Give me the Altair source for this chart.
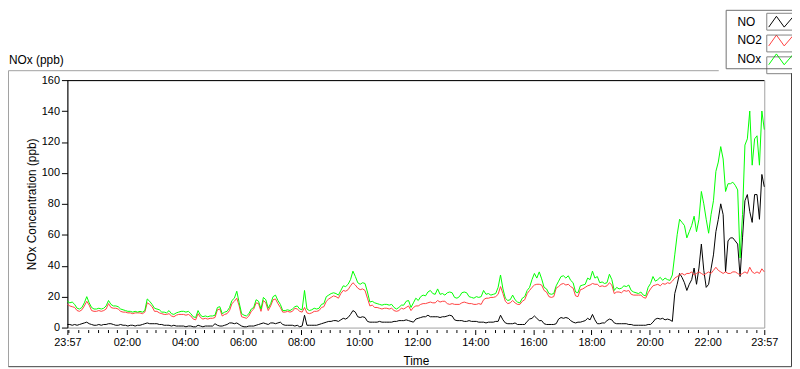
import altair as alt
import pandas as pd

# ---- data (minutes after 23:57, 5-minute readings) ----
minutes = list(range(0, 1441, 5))

nox = [
    17, 16, 16.5, 15, 12.5, 12, 13, 16, 20, 16, 13, 12,
    12, 12.5, 12, 12.5, 14, 17.5, 15, 14, 14, 13.5, 12, 11.5,
    11, 10.5, 10.5, 10, 10.5, 10, 10.5, 10, 11, 18.5, 17, 15,
    12.5, 12, 11.5, 10, 10, 9.5, 11, 9, 8.5, 9.5, 10, 10.5,
    10.5, 10, 10.5, 9, 7, 6.5, 11, 8, 7, 7.5, 7, 7.5,
    7.5, 8, 13, 13.5, 9, 10, 10.5, 13, 17.5, 19, 23.5, 16,
    9, 8, 7.5, 9, 12, 13, 18, 17, 12, 19.5, 18, 12.5,
    15.5, 20, 21, 17.5, 15, 11, 11, 11.5, 11, 12, 13.5, 14,
    12, 11.5, 24, 12, 11, 11.5, 12.5, 12, 12.5, 15, 15.5, 20,
    21, 22, 22.5, 22, 21, 24, 27, 26.5, 28, 31, 36.5, 33,
    29, 28, 29, 28.5, 23, 16.5, 17, 16, 15.5, 15, 14.5, 15,
    15, 14.5, 15, 13, 12, 13, 14.5, 14.5, 17, 17.5, 13, 16,
    19, 17.5, 20, 21, 20.5, 23, 24, 22, 21.5, 25, 21.5, 22,
    21, 22.5, 23, 22.5, 19.5, 19, 20, 22.5, 23, 22.5, 20, 19.5,
    19, 20, 19.5, 20, 24, 21.5, 22, 21, 21.5, 22, 26, 34,
    25, 19, 17.5, 18, 21, 18, 16.5, 16, 19, 20, 24, 26,
    31, 35, 32, 36, 31.5, 26, 25, 22, 21.5, 22, 27, 30,
    33, 33.5, 32, 33.5, 30.5, 29, 23, 22.5, 27, 27.5, 28, 32,
    31, 36.5, 32, 33, 29, 29.5, 28.5, 29, 34.5, 31, 24, 26,
    25, 25.5, 27, 26.5, 27.5, 24, 23, 22.5, 22, 23, 21, 20.5,
    26, 28.5, 33, 30, 31, 32.5, 30.5, 32, 31, 30.5, 34, 47,
    60, 70, 68, 66, 58, 62, 66, 72, 62, 70, 88, 80,
    70, 61, 73, 82, 101, 107, 117, 109, 88, 93, 93, 94,
    92, 89, 45, 73, 118, 122, 140, 105, 122, 124, 105, 140,
    128,
]

no2 = [
    15, 14, 13.5, 13, 11, 10.5, 11.5, 14, 17, 14.5, 11, 10.5,
    10.5, 11, 10.5, 11, 12, 15.5, 13, 12.5, 12.5, 12, 10.5, 10,
    10, 9.5, 9.5, 9, 9.5, 9.5, 9.5, 9, 10, 16, 15, 13.5,
    10.5, 10.5, 9.5, 9, 8.5, 8.5, 9, 7.5, 7, 8, 8.5, 8.5,
    8.5, 8, 8.5, 7.5, 5.5, 5, 9, 6.5, 5.5, 6, 5.5, 6,
    6, 6.5, 11.5, 12, 7.5, 8.5, 9, 11, 15.5, 17, 19, 14,
    7, 6.5, 6, 7.5, 10.5, 12, 16, 15.5, 10.5, 17.5, 16, 11,
    14, 18, 18.5, 15.5, 13, 10, 10, 10.5, 10, 10.5, 12.5, 12,
    10.5, 10, 13, 9.5, 9, 9.5, 10.5, 10.5, 11, 13, 13.5, 17,
    18.5, 19.5, 20.5, 20, 19, 22, 24, 23.5, 24.5, 27, 29, 27.5,
    25.5, 24.5, 25, 24, 19, 14, 14.5, 13, 13, 12.5, 12, 12.5,
    12.5, 12, 12.5, 11, 10.5, 11, 12.5, 12, 13, 14, 11, 13,
    14, 14, 15, 15.5, 15.5, 16, 16.5, 16, 16, 17.5, 16.5, 17,
    17, 15.5, 15, 15.5, 15, 15, 15, 16, 16.5, 16, 15.5, 15.5,
    15, 15, 15.5, 15, 18, 19, 19, 19.5, 19.5, 20, 21.5, 26.5,
    22, 17, 15.5, 16, 17.5, 16, 15, 15, 17, 18, 22, 24,
    26, 27.5, 28, 28, 27.5, 24, 23, 20, 19.5, 20, 25.5, 26.5,
    28, 28.5, 27.5, 28, 26.5, 25.5, 20.5, 20, 24.5, 25, 26, 27,
    27.5, 28.5, 28, 28, 26.5, 27, 26.5, 27, 29, 27.5, 22, 23,
    23, 22.5, 24, 23.5, 24, 21.5, 21, 21, 21, 21, 19.5, 19,
    22.5, 25, 27, 27.5, 28, 27, 28.5, 28, 29, 28.5, 30, 32,
    33, 34, 35, 34, 35, 35, 36, 34, 35, 36, 35, 34,
    35, 36, 35, 37, 39, 37, 36, 35, 36, 35, 35, 36,
    36, 35, 34, 35, 36, 35, 39, 36, 35, 36, 35, 38,
    36,
]

no = [
    2, 2, 1.5, 2, 1.5, 2, 2.5, 3, 3.5, 2.5, 2, 1.5,
    1.5, 2, 1.5, 2, 2, 2.5, 2.5, 2, 1.5, 1.5, 2, 1.5,
    1.5, 1, 1.5, 1.5, 1, 1.5, 1.5, 2, 2.5, 3, 2.5, 2.5,
    2.5, 2.5, 2, 2, 1.5, 1.5, 1.5, 1, 1.5, 1, 1, 1,
    1, 0.5, 1, 1, 0.5, 0.5, 1.5, 1, 0.5, 1, 1, 1,
    1, 2.5, 1.5, 1, 1, 1.5, 2, 3, 3, 2.5, 3, 2,
    1, 0.5, 0.5, 1, 1, 1, 1.5, 2, 2.5, 3, 2.5, 2,
    3, 3, 2.5, 3, 3.5, 2, 1.5, 1.5, 1.5, 1.5, 1, 1.5,
    0.5, 1, 8, 1.5, 1.5, 1.5, 1.5, 1.5, 2, 2.5, 3, 3.5,
    4, 4, 4.5, 4.5, 4, 5, 6, 5.5, 6.5, 8.5, 11, 10,
    7, 6.5, 7, 6.5, 4, 3.5, 3.5, 3.5, 3.5, 4, 3.5, 3.5,
    3.5, 3.5, 3.5, 4, 4, 4.5, 4.5, 4.5, 5, 4.5, 4, 3.5,
    5.5, 6, 6.5, 7, 7, 8, 7, 7, 7, 7, 6.5, 7,
    7, 7.5, 8, 7.5, 5, 4.5, 4.5, 4.5, 4, 4, 4.5, 4,
    4, 4, 3.5, 3.5, 3.5, 3, 3.5, 3.5, 3.5, 4, 4, 8,
    5, 3, 2.5, 2.5, 2.5, 3, 2, 2, 2, 2, 4, 5.5,
    6, 7.5, 6, 4.5, 4.5, 2.5, 2, 2, 2, 2, 2.5, 5.5,
    6.5, 6, 6.5, 6, 4.5, 3.5, 3, 3.5, 3.5, 4, 4.5, 6,
    5, 8.5, 5, 2.5, 2.5, 3, 3, 4.5, 5.5, 5, 3, 2.5,
    2.5, 2.5, 2.5, 2.5, 2, 2, 1.5, 1.5, 1.5, 1.5, 1.5, 1.5,
    2, 2, 3.5, 5.5, 6, 5.5, 6, 5, 5.5, 5, 4, 22,
    28, 35, 32.5, 29, 24, 28, 31, 38.5, 28, 38.5, 54, 37,
    26, 28, 38, 47, 62, 70, 80, 73, 36, 56, 58, 58,
    56, 54, 33, 58, 82, 86, 75, 68, 86, 86, 70, 99,
    91,
]

series_names = ["NO", "NO2", "NOx"]
series_colors = ["#000000", "#ff4040", "#00ff00"]
box_keys = ["b1", "b2", "b3"]

major_ticks = [0, 123, 243, 363, 483, 603, 723, 843, 963, 1083, 1203, 1323, 1440]
major_labels = ["23:57", "02:00", "04:00", "06:00", "08:00", "10:00", "12:00",
                "14:00", "16:00", "18:00", "20:00", "22:00", "23:57"]
minor_ticks = list(range(3, 1440, 20))
y_ticks = list(range(0, 161, 20))

n = len(minutes)
df = pd.DataFrame({
    "minute": minutes * 3,
    "value": no + no2 + nox,
    "series": ["NO"] * n + ["NO2"] * n + ["NOx"] * n,
})

FONT = "Liberation Sans"
W, H = 704, 250

label_expr = " : ".join(
    f"datum.value == {v} ? '{l}'" for v, l in zip(major_ticks, major_labels)
) + " : ''"
tick_test = f"indexof({major_ticks}, datum.value) >= 0"

# zigzag glyph; the trailing move-to widens the legend frame past the swatch box
zigzag = "M-1.19,0.52L-0.45,-0.52L0.3,0.52L1.19,-0.52M1.5,0"
box = "M-1.38,-0.81L1.38,-0.81L1.38,0.81L-1.38,0.81Z"

LEG_X, LEG_Y = 665, -71
SYM_SIZE = 441          # 21 px rows
SYM_OFF = 44
LAB_OFF = {"expr": "-55"}

lines = alt.Chart(df).mark_line(strokeWidth=1).encode(
    x=alt.X(
        "minute:Q",
        scale=alt.Scale(domain=[0, 1440], nice=False, zero=False),
        axis=alt.Axis(
            values=sorted(set(major_ticks + minor_ticks)),
            labelExpr=label_expr,
            labelOverlap=False,
            labelFlush=False,
            domain=False,
            offset=2,
            tickColor="#000000",
            tickSize={"condition": {"test": tick_test, "value": 5}, "value": 3},
            labelPadding=2,
            labelFontSize=11,
            labelColor="#000000",
            grid=False,
            title="Time",
            titleFontSize=12,
            titleFontWeight="normal",
            titleColor="#000000",
            titleY=31,
            titleBaseline="middle",
        ),
    ),
    y=alt.Y(
        "value:Q",
        scale=alt.Scale(domain=[0, 160], nice=False),
        axis=alt.Axis(
            values=y_ticks,
            domainColor="#000000",
            tickColor="#000000",
            tickSize=6,
            labelPadding=2,
            labelFontSize=11,
            labelColor="#000000",
            grid=False,
            title="NOx Concentration (ppb)",
            titleFontSize=12,
            titleFontWeight="normal",
            titleColor="#000000",
            titleX=-36,
            titleY=125,
            titleBaseline="middle",
        ),
    ),
    color=alt.Color(
        "series:N",
        scale=alt.Scale(domain=series_names, range=series_colors),
        legend=alt.Legend(
            orient="none", legendX=LEG_X, legendY=LEG_Y, title=None,
            direction="vertical",
            symbolType=zigzag, symbolSize=SYM_SIZE, symbolStrokeWidth=1,
            symbolFillColor="transparent",
            labelFont=FONT, labelFontSize=12, labelColor="#000000",
            labelAlign="left", labelOffset=LAB_OFF, symbolOffset=SYM_OFF,
            padding=1, rowPadding=0, strokeColor="#707070",
        ),
    ),
)

legend_df = pd.DataFrame({"box": box_keys})
boxes = alt.Chart(legend_df).transform_filter("false").mark_point(
    color="#505050", filled=False, strokeWidth=1
).encode(
    shape=alt.Shape(
        "box:N",
        scale=alt.Scale(domain=box_keys, range=[box] * 3),
        legend=alt.Legend(
            orient="none", legendX=LEG_X, legendY=LEG_Y, title=None,
            direction="vertical",
            symbolSize=SYM_SIZE, symbolStrokeWidth=1,
            symbolStrokeColor="#505050", symbolFillColor="transparent",
            labelExpr="''",
            labelFont=FONT, labelFontSize=12, labelColor="transparent",
            labelAlign="left", labelOffset=LAB_OFF, symbolOffset=SYM_OFF,
            padding=1, rowPadding=0,
        ),
    ),
)

one = pd.DataFrame({"d": [0]})
deco = alt.Chart(one)
top_border = deco.mark_rule(color="#000000", strokeWidth=1).encode(
    x=alt.value(0), x2=alt.value(W), y=alt.value(0.5))
frame_top = deco.mark_rule(color="#a0a0a0").encode(
    x=alt.value(-59.5), x2=alt.value(658), y=alt.value(-9.5))
frame_left = deco.mark_rule(color="#a0a0a0").encode(
    x=alt.value(-59.5), y=alt.value(-9.5), y2=alt.value(289.5))
frame_bottom = deco.mark_rule(color="#404040").encode(
    x=alt.value(-59.5), x2=alt.value(731.5), y=alt.value(289.5))
frame_right = deco.mark_rule(color="#404040").encode(
    x=alt.value(731.5), y=alt.value(-7), y2=alt.value(289.5))
caption = deco.mark_text(
    text="NOx (ppb)", align="left", baseline="middle",
    font=FONT, fontSize=12, color="#000000",
).encode(x=alt.value(-59), y=alt.value(-20))

chart = alt.layer(
    lines, boxes, top_border, frame_top, frame_left, frame_bottom, frame_right, caption
).properties(
    width=W, height=H,
    padding={"left": 60, "top": 71, "right": 28, "bottom": 40},
    autosize=alt.AutoSizeParams(type="none"),
    background="#ffffff",
).configure_view(
    stroke="#a0a0a0",
).configure_axis(
    labelFont=FONT, titleFont=FONT,
).configure_legend(
    labelFont=FONT,
)

chart.save("out.html", embed_options={"renderer": "svg", "actions": False})
